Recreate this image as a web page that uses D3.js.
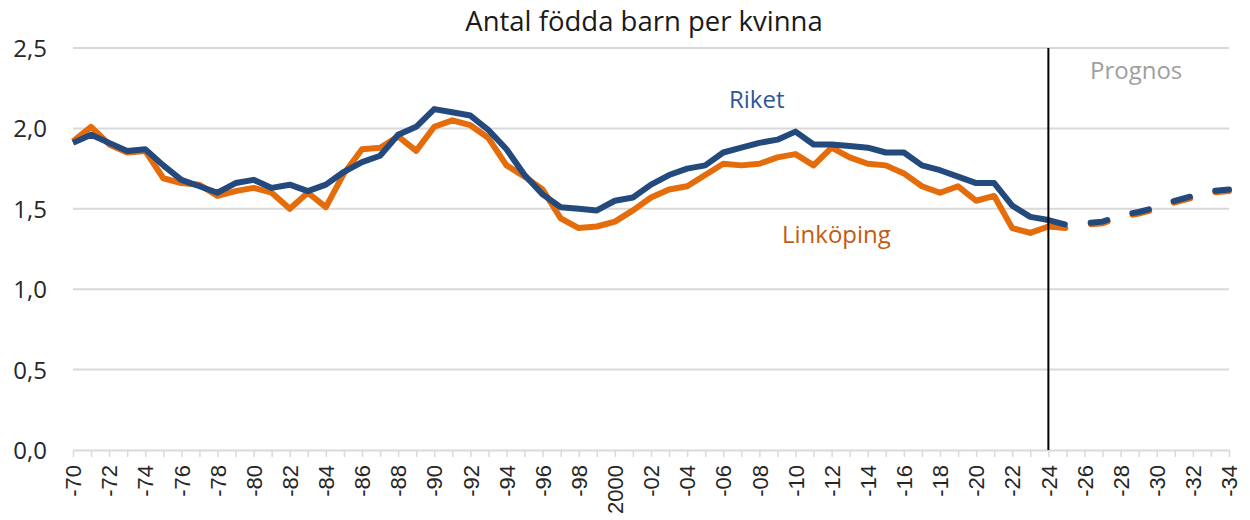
<!DOCTYPE html>
<html>
<head>
<meta charset="utf-8">
<script src="https://cdn.jsdelivr.net/npm/d3@7"></script>
<style>
    body { margin: 0; background: #fff; }
    svg { display: block; }
</style>
</head>
<body>
<div id="chart"></div>
<script>
/* Antal födda barn per kvinna */
var firstYear = 1970;
var riket = [1.91, 1.96, 1.91, 1.86, 1.87, 1.77, 1.68, 1.64, 1.60, 1.66,
             1.68, 1.63, 1.65, 1.61, 1.65, 1.73, 1.79, 1.83, 1.96, 2.01,
             2.12, 2.10, 2.08, 1.99, 1.87, 1.71, 1.59, 1.51, 1.50, 1.49,
             1.55, 1.57, 1.65, 1.71, 1.75, 1.77, 1.85, 1.88, 1.91, 1.93,
             1.98, 1.90, 1.90, 1.89, 1.88, 1.85, 1.85, 1.77, 1.74, 1.70,
             1.66, 1.66, 1.52, 1.45, 1.43];
var linkoping = [1.92, 2.01, 1.90, 1.85, 1.86, 1.69, 1.66, 1.65, 1.58, 1.61,
                 1.63, 1.60, 1.50, 1.60, 1.51, 1.72, 1.87, 1.88, 1.95, 1.86,
                 2.01, 2.05, 2.02, 1.94, 1.77, 1.70, 1.62, 1.44, 1.38, 1.39,
                 1.42, 1.49, 1.57, 1.62, 1.64, 1.71, 1.78, 1.77, 1.78, 1.82,
                 1.84, 1.77, 1.88, 1.82, 1.78, 1.77, 1.72, 1.64, 1.60, 1.64,
                 1.55, 1.58, 1.38, 1.35, 1.39];
// prognos 2024-2034
var prognosStart = 2024;
var riketPrognos = [1.43, 1.40, 1.41, 1.42, 1.46, 1.48, 1.51, 1.55, 1.58, 1.61, 1.62];
var linkopingPrognos = [1.39, 1.38, 1.40, 1.41, 1.45, 1.47, 1.50, 1.54, 1.57, 1.60, 1.61];
var xTickLabels = ["-70", "-72", "-74", "-76", "-78", "-80", "-82", "-84", "-86", "-88",
                   "-90", "-92", "-94", "-96", "-98", "2000", "-02", "-04", "-06", "-08",
                   "-10", "-12", "-14", "-16", "-18", "-20", "-22", "-24", "-26", "-28",
                   "-30", "-32", "-34"];
var yTickValues = [0, 0.5, 1.0, 1.5, 2.0, 2.5];
var yTickLabels = ["0,0", "0,5", "1,0", "1,5", "2,0", "2,5"];

var chartWidth = 1250,
    chartHeight = 520;
var plot = {left: 73, right: 1229, top: 48, bottom: 450};
var blue = "#23497d",
    orange = "#e46c0a";

var svg = d3.select("#chart").append("svg")
            .attr("width", chartWidth)
            .attr("height", chartHeight);

var lastYear = prognosStart + riketPrognos.length - 1;
var xScale = d3.scaleLinear()
        .domain([firstYear, lastYear])
        .range([plot.left, plot.right]);
var yScale = d3.scaleLinear()
        .domain([0, 2.5])
        .range([plot.bottom, plot.top]);

// gridlines
svg.append("g")
    .selectAll("line")
    .data(yTickValues.slice(1))
    .enter()
    .append("line")
    .attr("x1", plot.left)
    .attr("x2", plot.right)
    .attr("y1", function(d) { return yScale(d); })
    .attr("y2", function(d) { return yScale(d); })
    .attr("stroke", "#d9d9d9")
    .attr("stroke-width", 2);

// y axis labels
var yAxis = d3.axisLeft(yScale)
        .tickValues(yTickValues)
        .tickSize(0)
        .tickPadding(0)
        .tickFormat(function(d, i) { return yTickLabels[i]; });
var yAxisG = svg.append("g")
        .attr("transform", "translate(47,0)")
        .call(yAxis);
yAxisG.select(".domain").remove();
yAxisG.selectAll("text")
    .attr("font-family", "'Open Sans', sans-serif")
    .attr("font-size", 24)
    .attr("fill", "#262626")
    .attr("dy", "0.35em");

// x axis, a tick for every year, label every second
var allYears = d3.range(firstYear, lastYear + 1);
var xAxis = d3.axisBottom(xScale)
        .tickValues(allYears)
        .tickSize(7)
        .tickSizeOuter(0)
        .tickFormat(function(d) {
            return (d - firstYear) % 2 === 0 ? xTickLabels[(d - firstYear) / 2] : "";
        });
var xAxisG = svg.append("g")
        .attr("transform", "translate(0," + plot.bottom + ")")
        .call(xAxis);
xAxisG.select(".domain").attr("stroke", "#d9d9d9").attr("stroke-width", 2);
xAxisG.selectAll(".tick line").attr("stroke", "#d9d9d9").attr("stroke-width", 1.5);
xAxisG.selectAll("text")
    .attr("font-family", "'Liberation Sans', Arial, sans-serif")
    .attr("font-size", 22)
    .attr("fill", "#262626")
    .attr("text-anchor", "end")
    .attr("transform", "rotate(-90)")
    .attr("x", -15)
    .attr("y", 0)
    .attr("dy", "0.35em");

// lines
var line = d3.line()
        .x(function(d) { return xScale(d.year); })
        .y(function(d) { return yScale(d.value); });
var toPoints = function(values, start) {
    return values.map(function(v, i) { return {year: start + i, value: v}; });
};
var series = [
    {values: linkoping, prognos: linkopingPrognos, color: orange},
    {values: riket, prognos: riketPrognos, color: blue}
];
series.forEach(function(s) {
    svg.append("path")
        .datum(toPoints(s.values, firstYear))
        .attr("d", line)
        .attr("fill", "none")
        .attr("stroke", s.color)
        .attr("stroke-width", 6)
        .attr("stroke-linejoin", "round");
});
series.forEach(function(s) {
    svg.append("path")
        .datum(toPoints(s.prognos, prognosStart))
        .attr("d", line)
        .attr("fill", "none")
        .attr("stroke", s.color)
        .attr("stroke-width", 6)
        .attr("stroke-linecap", "round")
        .attr("stroke-dasharray", "17,26");
});

// prognos divider
svg.append("line")
    .attr("x1", xScale(prognosStart))
    .attr("x2", xScale(prognosStart))
    .attr("y1", plot.top)
    .attr("y2", plot.bottom)
    .attr("stroke", "#000")
    .attr("stroke-width", 2);

// texts
svg.append("text")
    .text("Antal födda barn per kvinna")
    .attr("x", 644)
    .attr("y", 31)
    .attr("text-anchor", "middle")
    .attr("font-family", "'Open Sans', sans-serif")
    .attr("font-size", 27.5)
    .attr("fill", "#1a1a1a");
var labels = [
    {text: "Riket", x: 729, y: 108, color: "#2f5597"},
    {text: "Linköping", x: 782, y: 243, color: "#c55a11"},
    {text: "Prognos", x: 1090, y: 79, color: "#a0a0a0"}
];
svg.selectAll(".series-label")
    .data(labels)
    .enter()
    .append("text")
    .attr("class", "series-label")
    .text(function(d) { return d.text; })
    .attr("x", function(d) { return d.x; })
    .attr("y", function(d) { return d.y; })
    .attr("font-family", "'Open Sans', sans-serif")
    .attr("font-size", 24)
    .attr("fill", function(d) { return d.color; });
</script>
</body>
</html>
